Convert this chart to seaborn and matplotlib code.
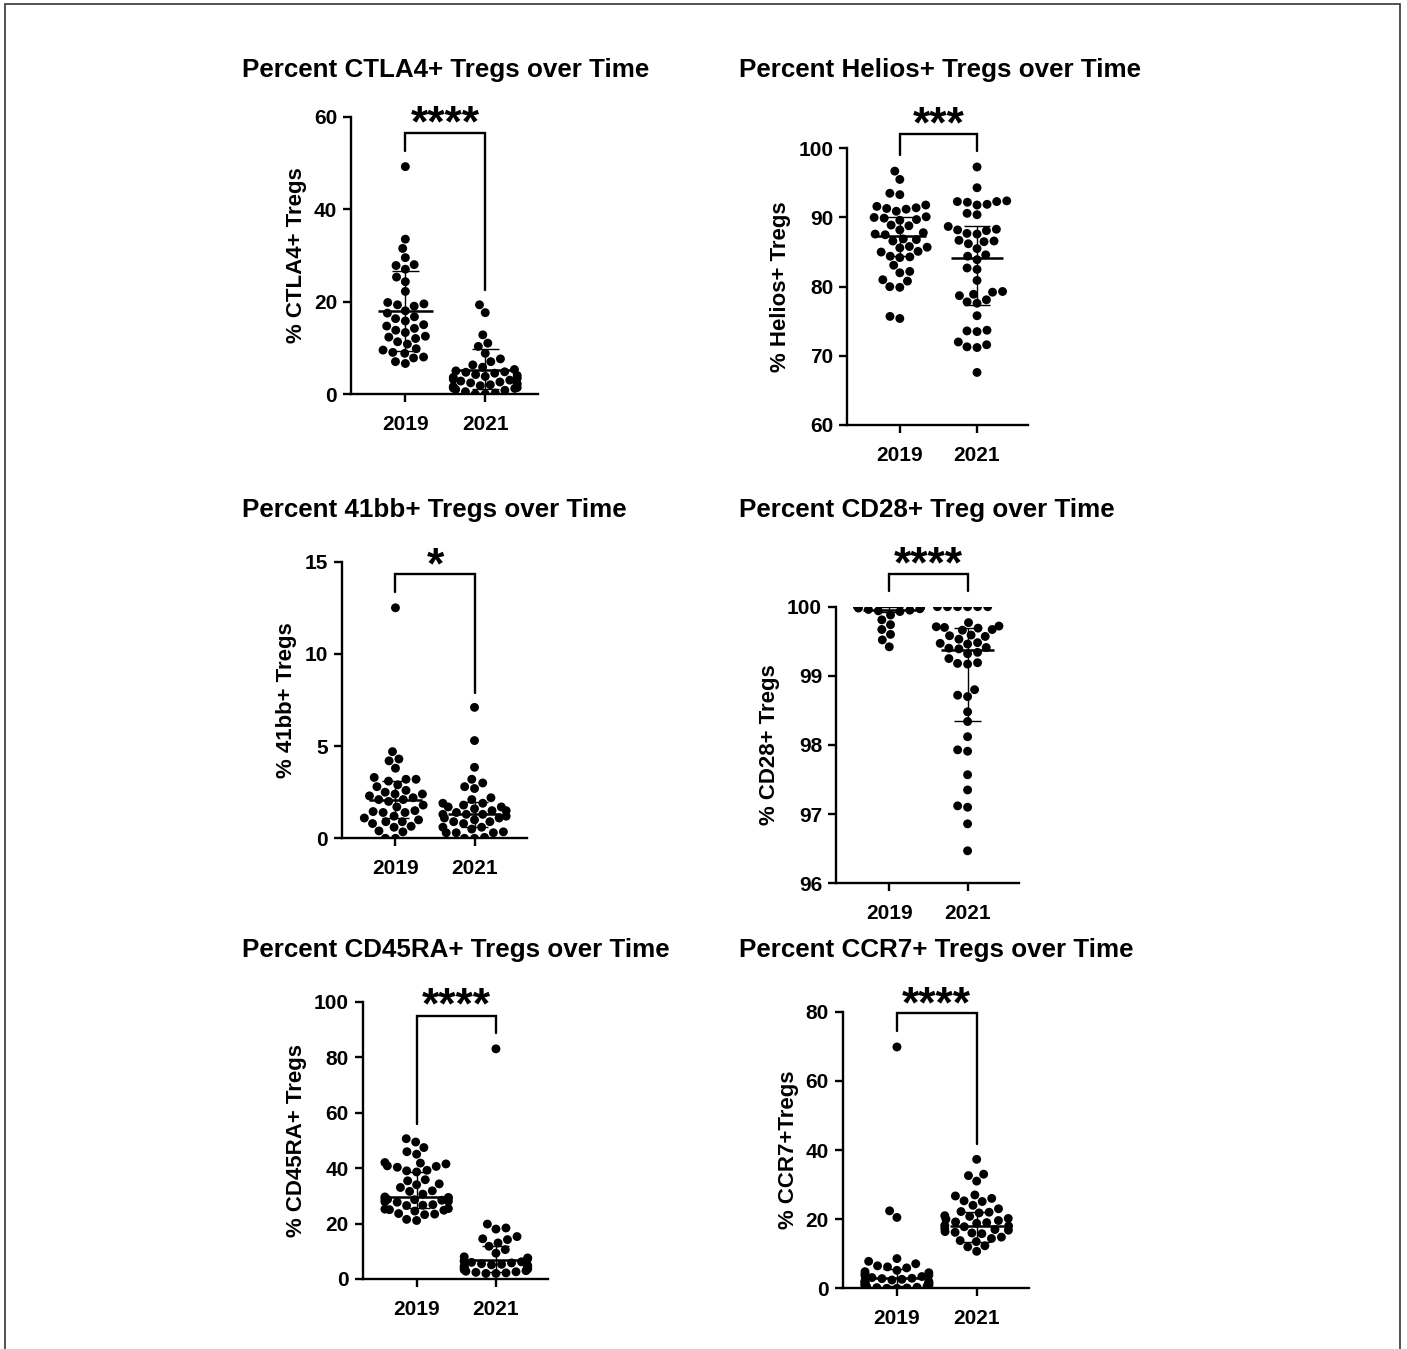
import warnings
warnings.filterwarnings("ignore")
import numpy as np
import pandas as pd
import matplotlib
matplotlib.use("Agg")
import matplotlib.pyplot as plt
import matplotlib.transforms as mtransforms
import seaborn as sns
from matplotlib.patches import Rectangle

# ---------------- data ----------------
years = ["2019", "2021"]

titles = ["Percent CTLA4+ Tregs over Time", "Percent Helios+ Tregs over Time",
          "Percent 41bb+ Tregs over Time", "Percent CD28+ Treg over Time",
          "Percent CD45RA+ Tregs over Time", "Percent CCR7+ Tregs over Time"]
ylabels = ["% CTLA4+ Tregs", "% Helios+ Tregs", "% 41bb+ Tregs",
           "% CD28+ Tregs", "% CD45RA+ Tregs", "% CCR7+Tregs"]
stars = ["****", "***", "*", "****", "****", "****"]
yticks = [[0, 20, 40, 60], [60, 70, 80, 90, 100], [0, 5, 10, 15],
          [96, 97, 98, 99, 100], [0, 20, 40, 60, 80, 100], [0, 20, 40, 60, 80]]

ctla4_2019 = [49.2, 33.5, 31.5, 29.5, 28.0, 27.8, 27.0, 25.3, 24.3, 22.2, 19.8, 19.5,
              19.3, 19.0, 18.0, 17.5, 16.7, 16.3, 15.8, 15.0, 14.7, 14.2, 13.8, 13.3,
              12.5, 12.3, 12.0, 11.3, 10.8, 9.8, 9.5, 9.0, 8.8, 8.0, 7.8, 7.0, 6.6]
ctla4_2021 = [19.3, 17.6, 12.8, 11.0, 10.3, 8.8, 7.6, 7.0, 6.3, 5.8, 5.3, 5.0, 4.8,
              4.7, 4.5, 4.2, 4.0, 3.8, 3.6, 3.4, 3.2, 3.0, 2.8, 2.6, 2.4, 2.2, 2.0,
              1.8, 1.6, 1.4, 1.3, 1.2, 1.0, 0.8, 0.5, 0.2, 0.0, 0.0]

helios_2019 = [96.7, 95.5, 93.5, 93.3, 91.8, 91.6, 91.4, 91.2, 91.3, 90.9, 90.0, 90.1,
               89.9, 89.6, 89.7, 88.8, 88.9, 88.2, 87.6, 87.5, 87.8, 86.8, 86.9, 86.6,
               85.7, 85.6, 85.8, 85.0, 85.1, 84.3, 84.2, 84.4, 83.1, 82.2, 82.0, 81.0,
               80.8, 80.0, 79.9, 75.7, 75.4]
helios_2021 = [97.3, 94.3, 92.4, 92.3, 92.3, 92.2, 91.8, 91.9, 90.6, 90.4, 88.7, 88.2,
               88.3, 88.1, 87.7, 87.6, 86.7, 86.6, 86.5, 86.2, 85.5, 84.6, 84.4, 83.9,
               82.7, 82.5, 80.9, 79.3, 79.2, 78.9, 78.7, 78.1, 77.8, 77.6, 75.8, 73.7,
               73.6, 73.5, 72.0, 71.6, 71.3, 71.2, 67.6]

bb41_2019 = [12.5, 4.7, 4.3, 4.2, 3.8, 3.3, 3.2, 3.2, 3.1, 2.9, 2.8, 2.6, 2.5, 2.4,
             2.4, 2.3, 2.2, 2.1, 2.1, 2.0, 1.8, 1.7, 1.5, 1.45, 1.4, 1.4, 1.2, 1.1,
             1.0, 0.9, 0.9, 0.8, 0.65, 0.6, 0.4, 0.35, 0.0, 0.0]
bb41_2021 = [7.1, 5.3, 3.85, 3.2, 3.0, 2.8, 2.7, 2.2, 2.1, 1.9, 1.9, 1.8, 1.7, 1.7,
             1.6, 1.5, 1.5, 1.4, 1.3, 1.3, 1.3, 1.2, 1.1, 1.1, 1.0, 0.9, 0.9, 0.8,
             0.6, 0.6, 0.5, 0.35, 0.3, 0.3, 0.3, 0.05, 0.0, 0.0]

cd28_2019 = [100.0, 100.0, 100.0, 100.0, 100.0, 100.0, 100.0, 100.0, 100.0, 100.0,
             100.0, 100.0, 100.0, 100.0, 100.0, 100.0, 100.0, 100.0, 99.98, 99.97,
             99.96, 99.95, 99.94, 99.93, 99.88, 99.81, 99.74, 99.67, 99.60, 99.52, 99.42]
cd28_2021 = [100.0, 100.0, 100.0, 100.0, 100.0, 100.0, 99.77, 99.72, 99.71, 99.70,
             99.69, 99.67, 99.66, 99.59, 99.58, 99.57, 99.53, 99.48, 99.47, 99.46,
             99.41, 99.40, 99.39, 99.34, 99.32, 99.25, 99.19, 99.18, 99.17, 98.80,
             98.72, 98.70, 98.48, 98.34, 98.12, 97.93, 97.91, 97.57, 97.35, 97.12,
             97.10, 96.86, 96.47]

cd45_2019 = [50.6, 49.4, 47.4, 45.9, 45.0, 42.0, 41.8, 41.5, 40.8, 40.6, 40.3, 39.2,
             39.0, 38.6, 35.8, 35.4, 34.3, 34.0, 33.0, 31.8, 31.6, 30.6, 29.6, 29.4,
             29.2, 28.9, 28.7, 28.6, 28.4, 28.0, 27.9, 27.7, 26.8, 26.6, 26.5, 25.4,
             25.2, 25.0, 24.8, 24.5, 23.6, 23.4, 23.2, 21.5, 21.1]
cd45_2021 = [83.0, 19.8, 18.4, 18.0, 15.3, 14.5, 14.2, 13.0, 11.8, 10.6, 9.3, 8.0,
             7.6, 7.3, 6.6, 6.4, 6.2, 6.0, 5.8, 5.5, 5.3, 5.1, 4.9, 4.7, 4.4, 4.2,
             4.0, 3.8, 3.6, 3.3, 3.0, 2.8, 2.6, 2.4, 2.2, 2.0, 2.0]

ccr7_2019 = [69.8, 22.4, 20.5, 8.6, 7.8, 7.1, 6.5, 6.2, 5.9, 5.2, 4.8, 4.5, 4.1, 3.8,
             3.6, 3.4, 3.1, 2.9, 2.8, 2.6, 2.4, 2.2, 2.0, 1.9, 1.8, 1.6, 1.5, 1.3,
             1.1, 1.0, 0.9, 0.7, 0.6, 0.4, 0.3, 0.2, 0.1, 0.0, 0.0]
ccr7_2021 = [37.3, 33.0, 32.6, 31.0, 27.0, 26.7, 26.0, 25.3, 25.1, 24.0, 23.0, 22.2,
             22.0, 21.8, 21.0, 20.8, 20.2, 20.0, 19.6, 19.2, 19.0, 18.8, 18.2, 18.0,
             17.8, 17.3, 17.0, 16.8, 16.4, 16.2, 16.0, 15.8, 14.8, 14.4, 13.8, 13.5,
             12.3, 12.0, 10.7]

# center line, lower whisker, upper whisker per group
ctla4_bars = [(18.0, 9.2, 26.6), (5.3, 1.0, 9.7)]
helios_bars = [(87.3, 84.4, 90.0), (84.1, 77.4, 88.7)]
bb41_bars = [(2.1, 1.1, 3.1), (1.3, 0.6, 1.95)]
cd28_bars = [(99.95, 99.92, 100.0), (99.38, 98.34, 99.69)]
cd45_bars = [(29.6, 25.5, 38.5), (6.9, 2.6, 12.0)]
ccr7_bars = [(2.9, 0.6, 5.5), (18.0, 13.5, 22.0)]

# significance bracket: top, left-leg bottom, right-leg bottom, stars y
ctla4_bracket = (56.5, 52.5, 22.5, 60.5)
helios_bracket = (102.0, 99.0, 99.6, 104.8)
bb41_bracket = (14.33, 13.33, 7.9, 15.3)
cd28_bracket = (100.47, 100.22, 100.22, 100.74)
cd45_bracket = (95.0, 56.0, 88.6, 101.8)
ccr7_bracket = (79.6, 74.3, 41.7, 84.6)

groups = [(ctla4_2019, ctla4_2021), (helios_2019, helios_2021), (bb41_2019, bb41_2021),
          (cd28_2019, cd28_2021), (cd45_2019, cd45_2021), (ccr7_2019, ccr7_2021)]
bars = [ctla4_bars, helios_bars, bb41_bars, cd28_bars, cd45_bars, ccr7_bars]
brackets = [ctla4_bracket, helios_bracket, bb41_bracket, cd28_bracket, cd45_bracket, ccr7_bracket]

# ---------------- layout (pixels) ----------------
W, H = 1407, 1349
boxes = [(351, 116.7, 538, 394), (847.3, 148.3, 1028, 425),
         (341.7, 561.7, 526.7, 838.3), (836, 606.7, 1019.3, 883.3),
         (362.7, 1001.7, 548.3, 1279), (842.7, 1011.7, 1029.3, 1288.3)]
title_pos = [(242, 69.5), (739, 69.5), (242, 509.5), (739, 509.5), (242, 949.5), (739, 949.5)]

sns.set_style("ticks")
plt.rcParams["font.family"] = ["Liberation Sans", "DejaVu Sans"]
plt.rcParams["font.weight"] = "bold"
plt.rcParams["axes.labelweight"] = "bold"
for key in ["text.color", "axes.labelcolor", "xtick.color", "ytick.color",
            "axes.edgecolor", "xtick.labelcolor", "ytick.labelcolor"]:
    plt.rcParams[key] = "black"

fig = plt.figure(figsize=(W / 100, H / 100), dpi=100)
fig.patch.set_facecolor("white")

for i in range(6):
    l, t, r, b = boxes[i]
    ax = fig.add_axes([l / W, 1 - b / H, (r - l) / W, (b - t) / H])
    g19, g21 = groups[i]
    df = pd.DataFrame({"year": ["2019"] * len(g19) + ["2021"] * len(g21),
                       "value": list(g19) + list(g21)})
    sns.swarmplot(data=df, x="year", y="value", order=years, color="black",
                  size=6.4, linewidth=0.5, edgecolor="none", ax=ax,
                  zorder=3)
    for k, (c, lo, hi) in enumerate(bars[i]):
        ax.hlines(c, k - 0.34, k + 0.34, color="black", lw=1.8, zorder=4)
        ax.vlines(k, lo, hi, color="black", lw=1.0, zorder=4)
        ax.hlines([lo, hi], k - 0.17, k + 0.17, color="black", lw=1.0, zorder=4)
    top, lb, rb, sy = brackets[i]
    ax.plot([0, 0, 1, 1], [lb, top, top, rb], color="black", lw=1.7,
            clip_on=False, solid_joinstyle="miter", zorder=5)
    star_tr = mtransforms.offset_copy(ax.transData, fig=fig, x=0, y=-7.5,
                                      units="points")
    ax.text(0.5, sy, stars[i], ha="center", va="center", fontsize=32,
            fontweight="bold", clip_on=False, transform=star_tr)
    yt = yticks[i]
    ax.set_ylim(yt[0], yt[-1])
    ax.set_yticks(yt)
    ax.set_xlim(-0.68, 1.66)
    ax.set_xlabel("")
    ax.set_ylabel(ylabels[i], fontsize=16, fontweight="bold", labelpad=5)
    for s in ["top", "right"]:
        ax.spines[s].set_visible(False)
    for s in ["left", "bottom"]:
        ax.spines[s].set_linewidth(1.7)
        ax.spines[s].set_color("black")
    ax.tick_params(axis="both", direction="out", length=6, width=1.7,
                   labelsize=15, colors="black")
    ax.tick_params(axis="y", pad=4)
    ax.tick_params(axis="x", pad=9)
    for lab in ax.get_xticklabels() + ax.get_yticklabels():
        lab.set_fontweight("bold")
    tx, ty = title_pos[i]
    fig.text(tx / W, 1 - ty / H, titles[i], ha="left", va="center",
             fontsize=18.7, fontweight="bold", color="black")

fig.patches.append(Rectangle((5 / W, -0.02), 1395 / W, 1.02 - 4 / H,
                             transform=fig.transFigure, fill=False,
                             edgecolor="#333333", lw=1.2))
fig.savefig("out.png", dpi=100, facecolor="white")
